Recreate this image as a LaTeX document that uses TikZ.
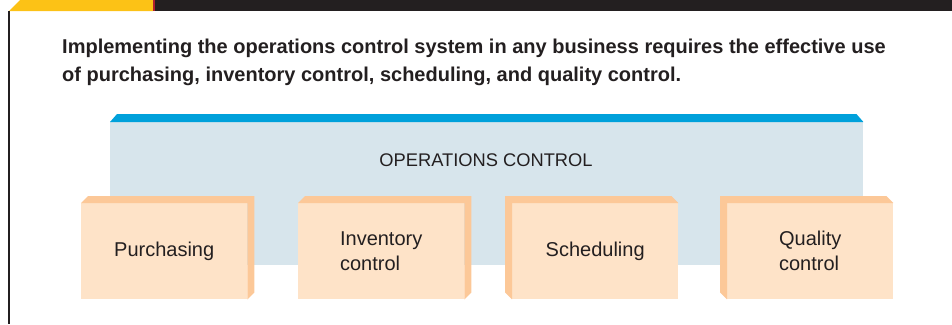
\documentclass[tikz,border=0pt]{standalone}
\usepackage{fontspec}
\setmainfont{Liberation Sans}
\definecolor{inkgray}{HTML}{231F20}
\definecolor{baryellow}{HTML}{FCC216}
\definecolor{barred}{HTML}{B0202E}
\definecolor{stripblue}{HTML}{00A1DB}
\definecolor{paleblue}{HTML}{D7E5EC}
\definecolor{facecol}{HTML}{FEE3C8}
\definecolor{sidecol}{HTML}{FCC898}
\begin{document}
\begin{tikzpicture}[x=1pt,y=-1pt]
\tikzstyle{part}=[fill=facecol, minimum width=166pt, minimum height=96pt, inner sep=0pt, anchor=north west, align=left, text=inkgray, font=\fontsize{20}{25}\selectfont]
\tikzstyle{side}=[fill=sidecol]
\tikzstyle{intro}=[anchor=base west, inner sep=0pt, text=inkgray, font=\fontsize{20}{24}\selectfont\bfseries]
\useasboundingbox (0,0) rectangle (952,324);

% heading bar and frame
\fill[baryellow] (9,11) -- (20,0) -- (153,0) -- (153,11) -- cycle;
\fill[barred] (153,0) rectangle (155,11);
\fill[inkgray] (155,0) rectangle (952,11);
\draw[inkgray, line width=1.6pt] (9,11) -- (9,324);

\node[intro] (intro1) at (62,53) {Implementing the operations control system in any business requires the effective use};
\node[intro] (intro2) at (62,81) {of purchasing, inventory control, scheduling, and quality control.};

% operations control block
\node[fill=paleblue, minimum width=753pt, minimum height=143pt, inner sep=0pt, anchor=north west] (ops) at (110,122) {};
\fill[stripblue] (ops.north west) -- ++(7,-8) -- ([shift={(-7,-8)}]ops.north east) -- (ops.north east) -- cycle;
\node[text=inkgray, font=\fontsize{18.3}{22}\selectfont] (opslabel) at (486,160) {OPERATIONS CONTROL};

% the four parts
\node[part] (purch) at (81,203) {Purchasing};
\node[part] (inv) at (298,203) {Inventory\\control};
\node[part] (sched) at (512,203) {Scheduling};
\node[part] (qual) at (727,203) {Quality\\control};

\fill[side] (purch.north west) -- ++(7,-7) -- ([shift={(7,-7)}]purch.north east) -- ([shift={(7,-7)}]purch.south east) -- (purch.south east) -- (purch.north east) -- cycle;
\fill[side] (inv.north west) -- ++(7,-7) -- ([shift={(7,-7)}]inv.north east) -- ([shift={(7,-7)}]inv.south east) -- (inv.south east) -- (inv.north east) -- cycle;
\fill[side] (sched.north east) -- ++(-7,-7) -- ([shift={(-7,-7)}]sched.north west) -- ([shift={(-7,-7)}]sched.south west) -- (sched.south west) -- (sched.north west) -- cycle;
\fill[side] (qual.north east) -- ++(-7,-7) -- ([shift={(-7,-7)}]qual.north west) -- ([shift={(-7,-7)}]qual.south west) -- (qual.south west) -- (qual.north west) -- cycle;
\end{tikzpicture}
\end{document}
